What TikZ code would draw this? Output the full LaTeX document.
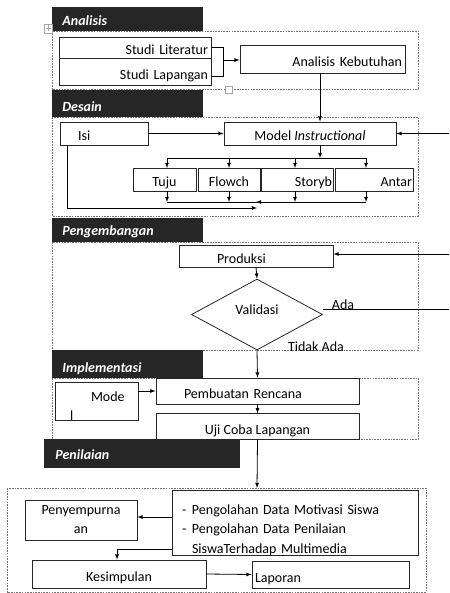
\documentclass[tikz,border=0pt]{standalone}
\usepackage{fontspec}
\setmainfont{Carlito}
\usepackage{tikz}
\usetikzlibrary{calc}
\usetikzlibrary{arrows}
\usetikzlibrary{shapes.geometric}
\usetikzlibrary{positioning}

\begin{document}
\begin{tikzpicture}[x=1pt,y=-1pt]
    \tikzstyle{every node}=[font=\fontsize{14}{19}\selectfont,inner sep=0pt]
    \tikzstyle{every path}=[line width=0.8pt]
    \tikzstyle{mbox}=[draw=black!85,fill=white,inner xsep=3pt]
    \tikzstyle{box}=[mbox,text height=15pt,text depth=0pt]
    \tikzstyle{frame}=[draw=black!55,line width=0.7pt,dash pattern=on 1.6pt off 1.1pt]
    \tikzstyle{band}=[fill=black!85]
    \tikzstyle{bandtext}=[anchor=west,text=white,font=\fontsize{14}{16}\selectfont\bfseries\itshape]
    \tikzstyle{handle}=[draw=black!35,fill=white,line width=0.5pt]

    \useasboundingbox (0,0) rectangle (449,593) ;

    % dashed phase frames
    \draw[frame] (52,31) rectangle (418,89) ;
    \draw[frame] (52,117) rectangle (418,216) ;
    \draw[frame] (52,242) rectangle (418,350) ;
    \draw[frame] (52,378) rectangle (418,439) ;
    \draw[frame] (7,488) rectangle (426,592) ;

    % phase bands
    \fill[band] (52,7) rectangle (203,31) ;
    \node[bandtext] (tAnalisis) at (62,21) {Analisis} ;
    \fill[band] (52,90) rectangle (203,117) ;
    \node[bandtext] (tDesain) at (62,107) {Desain} ;
    \fill[band] (52,218) rectangle (203,242) ;
    \node[bandtext] (tKembang) at (62,232) {Pengembangan} ;
    \fill[band] (52,350) rectangle (203,378) ;
    \node[bandtext] (tImplement) at (62,369) {Implementasi} ;
    \fill[band] (44,439) rectangle (240,468) ;
    \node[bandtext] (tNilai) at (55,455) {Penilaian} ;

    \draw[handle] (44,24) rectangle (52,33) ;
    \draw[handle] (45.5,28.5) -- (50.5,28.5) (48,25.5) -- (48,31.5) ;
    \draw[handle] (225,86) rectangle (232,93) ;

    % analisis
    \node[box,minimum width=152pt,minimum height=21pt,text width=146pt,align=right] (lit) at (135,47.5) {Studi Literatur} ;
    \node[box,minimum width=152pt,minimum height=27pt,text width=146pt,align=right,below=0pt of lit] (lap) {Studi Lapangan} ;
    \node[box,minimum width=165pt,minimum height=28pt,text width=159pt,align=right] (kebutuhan) at (322.5,59) {Analisis Kebutuhan} ;

    % desain
    \node[box,minimum width=88pt,minimum height=23pt,text width=82pt,align=left] (isi) at (104,133.5) {\hspace*{15pt}Isi} ;
    \node[box,minimum width=172pt,minimum height=23pt] (model) at (310,133.5) {Model \textit{Instructional}} ;
    \node[box,minimum width=63pt,minimum height=23pt] (tuju) at (164.5,179.5) {Tuju} ;
    \node[box,minimum width=62pt,minimum height=23pt] (flow) at (229,179.5) {Flowch} ;
    \node[box,minimum width=72pt,minimum height=23pt,text width=70pt,align=right,inner xsep=1pt] (story) at (297,179.5) {Storyb} ;
    \node[box,minimum width=78pt,minimum height=23pt,text width=76pt,align=right,inner xsep=1pt] (antar) at (374,179.5) {Antar} ;

    % pengembangan
    \node[box,minimum width=154pt,minimum height=22pt,text width=148pt,align=left] (produksi) at (256,256) {\hspace*{35pt}Produksi} ;
    \node[draw=black!85,fill=white,shape=diamond,minimum width=131pt,minimum height=71pt] (valid) at (257,314.5) {\raisebox{10pt}{Validasi}} ;
    \node (lAda) at (343,305) {Ada} ;
    \node (lTidak) at (316,347) {Tidak Ada} ;

    % implementasi
    \node[mbox,minimum width=83pt,minimum height=38pt,text width=77pt,align=left] (mode) at (96.5,401) {\rule{0pt}{19pt}\hspace*{33pt}Mode\\\hspace*{12pt}l} ;
    \node[box,minimum width=203pt,minimum height=26pt,text width=197pt,align=left] (rencana) at (257.5,391) {\hspace*{25pt}Pembuatan Rencana} ;
    \node[box,minimum width=203pt,minimum height=26pt,below=9pt of rencana] (uji) {Uji Coba Lapangan} ;

    % penilaian
    \node[mbox,minimum width=246pt,minimum height=62pt,text width=226pt,inner xsep=10pt,align=left,font=\fontsize{14}{19.5}\selectfont] (olah) at (295,523)
        {\rule{0pt}{24pt}\makebox[10pt][l]{-}Pengolahan Data Motivasi Siswa\\
         \makebox[10pt][l]{-}\makebox[192pt][s]{Pengolahan Data Penilaian}\\
         \hspace*{10pt}SiswaTerhadap Multimedia} ;
    \node[mbox,minimum width=112pt,minimum height=40pt,align=center] (sempurna) at (81,520) {Penyempurna\\an} ;
    \node[box,minimum width=174pt,minimum height=28pt] (simpul) at (119,574) {Kesimpulan} ;
    \node[box,minimum width=157pt,minimum height=27pt,text width=151pt,align=left] (laporan) at (330.5,574.5) {Laporan} ;

    \coordinate (inModel) at (449,133.5) ;
    \coordinate (inProd) at (449,254) ;
    \coordinate (outAda) at (449,309) ;
    \coordinate (isiJoin) at (257,208) ;
    \coordinate (nilaiTop) at (257,488) ;

    \newcommand{\fourdrops}[2]{%
    \foreach \xa in {167,229,295,366}{%
      \draw[-latex] (\xa,#1) -- (\xa,#2) ;}}

    % connectors
    \draw (lit.east) -- ++(12,0) |- ([yshift=-4.5pt]lap.east) ;
    \draw[-latex] (223,60) -- (kebutuhan.west |- 0,60) ;
    \draw[-latex] ([xshift=-2.5pt]kebutuhan.south) -- ([xshift=10pt]model.north) ;
    \draw[-latex] (isi.east) -- (model.west) ;
    \draw[-latex] (inModel) -- (model.east) ;
    \draw[-latex] ([xshift=10pt]model.south) -- (320,158) ;
    \draw (167,158) -- (366,158) ;
    \fourdrops{158}{168}
    \fourdrops{191}{202}
    \draw (167,202) -- (366,202) ;
    \draw[-latex] ([xshift=-37pt]isi.south) |- (isiJoin) ;
    \draw[-latex] (257,202) -- (257,202 -| produksi.north) ;
    \draw[-latex] (inProd) -- (inProd -| produksi.east) ;
    \draw[-latex] (produksi.south) -- (valid.north) ;
    \draw (valid.east |- outAda) -- (outAda) ;
    \draw[-latex] (valid.south) -- (rencana.north) ;
    \draw[-latex] (mode.east |- rencana.west) -- (rencana.west) ;
    \draw[-latex] (rencana.south) -- (uji.north) ;
    \draw[-latex] (uji.south) -- (nilaiTop) ;
    \draw[-latex] (olah.west |- 0,517) -- (sempurna.east |- 0,517) ;
    \draw[-latex] ([yshift=-26pt]olah.west) -| ([xshift=-2pt]simpul.north) ;
    \draw[-latex] (simpul.east) -- (laporan.west) ;

  \end{tikzpicture}
\end{document}
